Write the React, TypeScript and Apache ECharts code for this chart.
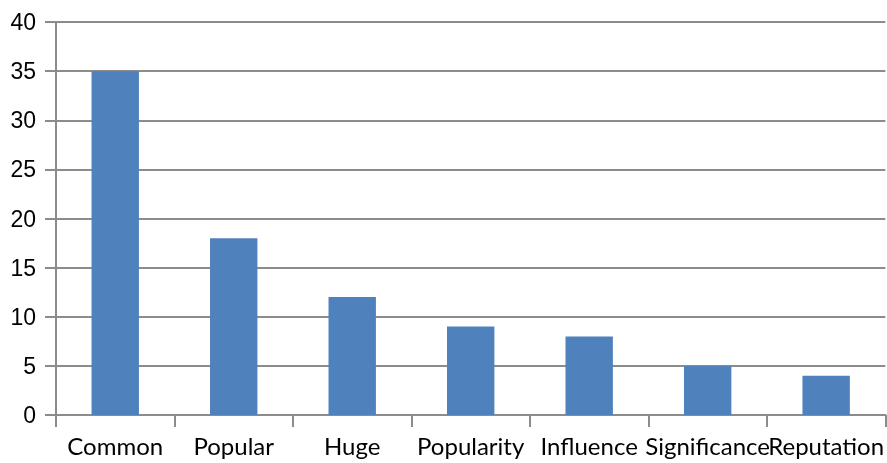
import React, { useEffect, useRef } from "react";
import * as echarts from "echarts";

const categories = ["Common", "Popular", "Huge", "Popularity", "Influence", "Significance", "Reputation"];
const values = [35, 18, 12, 9, 8, 5, 4];

export default function App() {
  const ref = useRef<HTMLDivElement>(null);
  useEffect(() => {
    if (!ref.current) return;
    const chart = echarts.init(ref.current, null, { renderer: "svg" });
    chart.setOption({
      animation: false,
      grid: { left: 56, right: 0, top: 22, bottom: 48 },
      xAxis: {
        type: "category",
        data: categories,
        axisLine: { lineStyle: { color: "#8c8c8c", width: 2 } },
        axisTick: { show: true, length: 12, lineStyle: { color: "#8c8c8c", width: 2 } },
        axisLabel: { color: "#000", fontFamily: "Lato", fontSize: 24, margin: 18, interval: 0 },
      },
      yAxis: {
        type: "value",
        min: 0,
        max: 40,
        interval: 5,
        axisLine: { show: true, lineStyle: { color: "#8c8c8c", width: 2 } },
        axisTick: { show: true, length: 11, lineStyle: { color: "#8c8c8c", width: 2 } },
        splitLine: { lineStyle: { color: "#8c8c8c", width: 2 } },
        axisLabel: { color: "#000", fontFamily: "Liberation Sans", fontSize: 23, margin: 20 },
      },
      series: [
        {
          type: "bar",
          data: values,
          barWidth: "40%",
          itemStyle: { color: "#4f81bd" },
        },
      ],
    });
    return () => chart.dispose();
  }, []);
  return <div ref={ref} style={{ position: "fixed", left: 0, top: 0, width: 887, height: 463 }} />;
}
